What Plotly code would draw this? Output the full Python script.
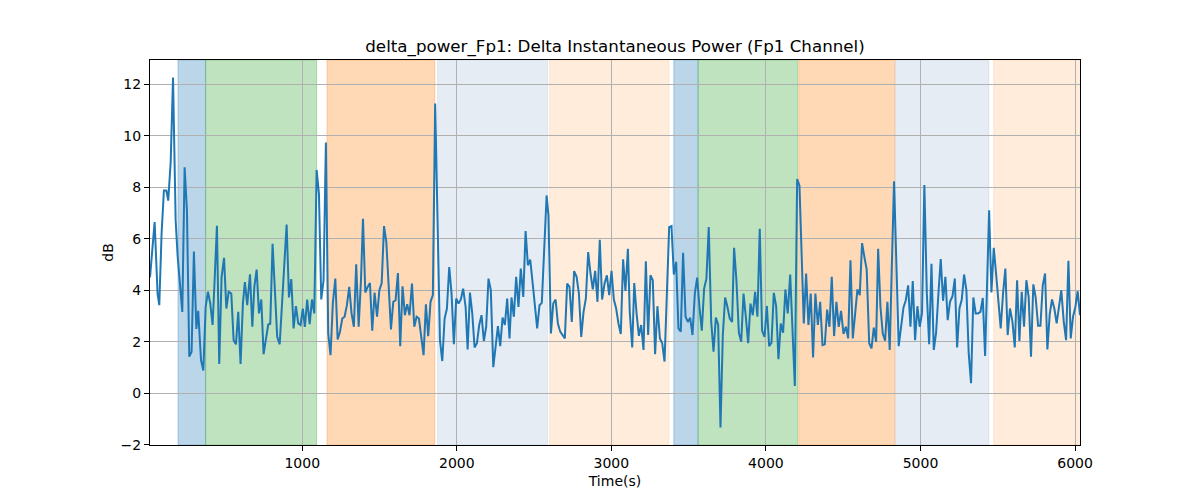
import plotly.graph_objects as go

# ---- data ----
time_s = [15, 45, 64, 75, 90, 105, 121, 133, 149, 164, 181, 194, 224, 239, 254, 269, 284, 299, 315, 327,
          345, 360, 375, 390, 405, 420, 435, 448, 463, 478, 494, 509, 524, 541, 556, 571, 586, 601, 616, 629,
          644, 662, 677, 690, 705, 720, 735, 750,
          765, 780, 793, 808, 823, 838, 854, 899, 914, 929, 944, 959, 974, 989, 1004, 1017, 1032, 1048, 1063,
          1078, 1093, 1108, 1123, 1138, 1153, 1168, 1183, 1198, 1214, 1229, 1244, 1259, 1274, 1289, 1304, 1319,
          1334, 1349, 1365, 1380, 1393, 1408, 1423, 1438, 1453, 1468, 1484, 1499, 1514, 1529, 1544,
          1574, 1589, 1604, 1619, 1634, 1649, 1664, 1679, 1694, 1710, 1725, 1740, 1755, 1770, 1785, 1800, 1815,
          1830, 1845, 1860, 1873, 1891, 1906, 1921, 1936, 1951, 1966, 1981, 1996, 2011, 2026, 2041, 2057, 2070,
          2085, 2100, 2115, 2130, 2145, 2160, 2175, 2190, 2205, 2220, 2236, 2251, 2266, 2281, 2296, 2311, 2326,
          2341,
          2354, 2369, 2384, 2399, 2414, 2430, 2445, 2460, 2475, 2490, 2505, 2520, 2535, 2550, 2581, 2593, 2609,
          2624, 2639, 2654, 2669, 2684, 2699, 2714, 2729, 2744, 2759, 2775, 2790, 2805, 2820, 2835, 2850, 2865,
          2880, 2895, 2910, 2925, 2940, 2956, 2971, 2986, 3001, 3016, 3031, 3046, 3061, 3076, 3091, 3107,
          3119, 3135, 3148, 3163, 3178, 3193, 3208, 3223, 3238, 3253, 3268, 3283, 3298, 3314, 3329, 3344, 3374,
          3389, 3404, 3419, 3434, 3449, 3464, 3480, 3495, 3510, 3525, 3540, 3555, 3570, 3585, 3600, 3615, 3630,
          3646, 3661, 3676, 3691, 3706, 3721, 3736, 3751, 3766, 3781, 3794, 3809, 3825, 3840, 3855, 3870, 3885,
          3900, 3915, 3930, 3945, 3960, 3975, 3991, 4006, 4021, 4036, 4051, 4066, 4081, 4096, 4111, 4126, 4141,
          4157, 4187, 4202, 4217, 4245, 4260, 4275, 4290, 4305, 4320, 4336, 4351, 4366, 4381, 4396, 4411, 4426,
          4441, 4456, 4471, 4486, 4502, 4517, 4532, 4547, 4562, 4577, 4592, 4607, 4622, 4637, 4652, 4668,
          4683, 4698, 4713, 4726, 4741, 4756, 4771, 4786, 4801, 4814, 4829, 4859, 4874, 4890, 4905, 4920, 4935,
          4950, 4965, 4980, 4995, 5010, 5025, 5041, 5056, 5071, 5086, 5101, 5116, 5131, 5146, 5161, 5176, 5191,
          5207, 5222, 5237, 5252, 5267, 5282, 5297, 5312, 5327, 5342, 5357, 5372, 5388, 5403, 5418, 5444,
          5459, 5474, 5489, 5504, 5519, 5534, 5549, 5564, 5579, 5595, 5610, 5625, 5640, 5655, 5670, 5685, 5700,
          5715, 5730, 5745, 5761, 5776, 5791, 5806, 5821, 5836, 5851, 5866, 5881, 5896, 5911, 5927, 5942, 5957,
          5972, 5987, 6002, 6017, 6032]

power_db = [4.5, 6.65, 3.87, 3.42, 6.2, 7.87, 7.87, 7.48, 9.0, 12.26, 6.7, 5.3, 3.16, 8.77, 7.1, 1.42, 1.61, 5.5, 2.5, 3.2,
            1.29, 0.88, 3.35, 3.94, 3.48, 2.65, 4.65, 6.5, 1.14, 4.5, 5.26, 3.29, 3.94, 3.87, 2.06, 1.9, 3.16, 1.14, 3.48, 4.32,
            3.42, 4.62, 2.58, 4.13, 4.8, 3.1, 3.64, 1.52,
            2.1, 2.67, 2.7, 5.8, 4.0, 2.19, 1.9, 6.55, 3.72, 4.43, 2.52, 3.38, 2.71, 2.65, 3.29, 2.58, 3.64, 2.68, 3.64,
            3.1, 8.67, 7.74, 3.64, 4.39, 9.74, 2.32, 1.48, 3.5, 4.45, 2.09, 2.39, 2.9, 2.97, 3.42, 4.13, 3.1,
            2.58, 5.01, 2.58, 4.4, 6.77, 3.91, 4.13, 4.28, 2.43, 3.91, 2.97, 4.0, 4.28, 6.49, 5.87,
            2.48, 3.55, 3.61, 4.67, 1.83, 4.15, 3.03, 3.46, 3.03, 4.26, 2.58, 2.97, 2.9, 2.19, 1.48, 3.45, 2.22,
            3.55, 3.81, 11.25, 7.6, 2.06, 1.25, 2.9, 3.29, 4.9, 3.87, 1.9, 3.68, 3.48, 3.64, 4.06, 3.35, 1.7,
            3.91, 3.1, 1.78, 1.94, 2.65, 3.03, 2.03, 2.58, 4.45, 4.0, 1.01, 1.81, 2.61, 1.83, 2.94, 2.65, 3.68,
            2.13,
            3.72, 2.97, 4.52, 3.35, 4.84, 3.74, 6.3, 4.97, 5.19, 4.32, 3.42, 2.52, 3.42, 3.51, 7.68, 6.9, 2.32,
            3.48, 3.64, 2.71, 2.39, 2.26, 2.13, 4.26, 4.13, 2.77, 4.74, 4.52, 3.87, 2.19, 3.16, 3.68, 5.48, 4.65,
            4.03, 4.75, 3.55, 5.96, 3.64, 4.26, 4.58, 3.81, 4.75, 3.64, 3.29, 2.71, 2.3, 5.2, 3.97, 5.61,
            3.15, 1.78, 4.28, 3.1, 2.23, 2.65, 1.68, 5.12, 2.26, 4.58, 4.39, 1.52, 3.38, 2.13, 1.94, 1.23, 6.45,
            6.49, 4.61, 5.1, 2.52, 2.39, 5.45, 2.97, 2.77, 2.93, 2.26, 3.87, 4.49, 3.35, 2.43, 4.06, 4.45, 6.45,
            2.77, 1.61, 2.94, 2.65, -1.33, 2.26, 3.72, 3.35, 2.9, 2.77, 5.65, 4.39, 2.35, 2.0, 3.87, 2.97, 1.94,
            3.48, 3.03, 3.94, 2.97, 6.39, 2.43, 2.19, 3.39, 1.83, 1.96, 3.9, 3.38, 1.32, 2.71, 2.35, 4.03, 3.1,
            4.61, 0.28, 8.32, 8.06, 2.71, 4.65, 2.65, 3.87, 1.39, 3.87, 2.65, 3.55, 1.87, 1.9, 3.25, 2.58, 4.52,
            2.22, 3.55, 2.58, 3.2, 2.3, 2.58, 2.13, 5.16, 2.13, 3.23, 4.03, 3.81, 5.83, 5.29, 4.8, 1.94,
            1.74, 2.55, 2.0, 5.61, 3.35, 2.32, 2.04, 3.55, 1.68, 4.8, 8.23, 1.83, 2.58, 3.33, 3.61, 4.19, 2.58,
            4.36, 2.06, 3.38, 2.58, 3.12, 8.09, 3.87, 1.9, 5.03, 1.68, 2.35, 3.87, 5.21, 3.59, 4.52, 2.84, 3.55,
            3.77, 4.45, 1.78, 3.29, 3.64, 4.61, 4.0, 1.55, 0.39, 3.72, 3.1, 3.1, 3.16, 3.7, 1.45, 7.1,
            3.91, 5.65, 4.65, 3.6, 2.52, 3.87, 4.84, 2.26, 3.29, 2.77, 1.78, 4.39, 2.03, 3.94, 2.58, 4.39, 3.72,
            1.42, 4.23, 3.72, 2.62, 2.62, 4.19, 4.65, 1.7, 3.07, 3.64, 3.29, 2.71, 3.35, 4.0, 2.77, 2.06, 5.14,
            2.13, 2.97, 3.35, 3.96, 3.03]

# shaded stage intervals (seconds)
span_start = [196, 375, 1160, 1876, 2600, 3404, 3561, 4213, 4838, 5474]
span_end = [375, 1093, 1858, 2587, 3372, 3561, 4206, 4834, 5442, 6100]
span_color = ["rgba(31,119,180,0.3)", "rgba(44,160,44,0.3)", "rgba(255,127,14,0.3)",
              "rgba(176,196,222,0.33)", "rgba(255,127,14,0.15)",
              "rgba(31,119,180,0.3)", "rgba(44,160,44,0.3)", "rgba(255,127,14,0.3)",
              "rgba(176,196,222,0.33)", "rgba(255,127,14,0.15)"]

x_ticks = [1000, 2000, 3000, 4000, 5000, 6000]
y_ticks = [-2, 0, 2, 4, 6, 8, 10, 12]

FONT = "DejaVu Sans"

fig = go.Figure()
fig.add_trace(go.Scatter(x=time_s, y=power_db, mode="lines",
                         line=dict(color="#1f77b4", width=2), showlegend=False))

for s, e, c in zip(span_start, span_end, span_color):
    fig.add_shape(type="rect", xref="x", yref="paper", x0=s, x1=e, y0=0, y1=1,
                  fillcolor=c, line=dict(color=c, width=1), layer="below")

ymin, ymax = min(power_db), max(power_db)
pad = 0.05 * (ymax - ymin)

fig.update_layout(
    width=1200, height=500,
    margin=dict(l=150, r=120, t=60, b=55),
    paper_bgcolor="white", plot_bgcolor="white",
    font=dict(family=FONT, size=14, color="black"),
    title=dict(text="delta_power_Fp1: Delta Instantaneous Power (Fp1 Channel)",
               x=0.5, xref="paper", xanchor="center",
               y=1 - 46 / 500, yref="container", yanchor="middle",
               font=dict(family=FONT, size=16.7, color="black")),
)
fig.update_xaxes(range=[min(time_s), max(time_s)], tickvals=x_ticks,
                 showgrid=True, gridcolor="#b0b0b0", gridwidth=1,
                 showline=True, linecolor="black", linewidth=1.1, mirror=True,
                 ticks="outside", ticklen=5, tickwidth=1.1, tickcolor="black",
                 zeroline=False, tickfont=dict(size=14),
                 title=dict(text="Time(s)", font=dict(size=14), standoff=6))
fig.update_yaxes(range=[ymin - pad, ymax + pad], tickvals=y_ticks,
                 showgrid=True, gridcolor="#b0b0b0", gridwidth=1,
                 showline=True, linecolor="black", linewidth=1.1, mirror=True,
                 ticks="outside", ticklen=5, tickwidth=1.1, tickcolor="black",
                 zeroline=False, tickfont=dict(size=14),
                 title=dict(text="dB", font=dict(size=14), standoff=3))

fig.write_html("out.html")
